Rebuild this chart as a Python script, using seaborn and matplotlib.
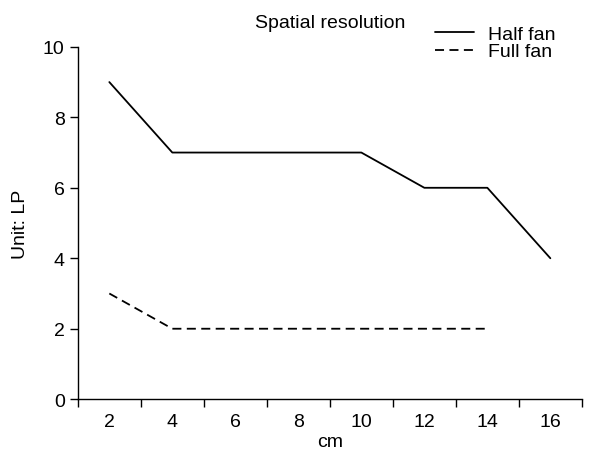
import matplotlib
matplotlib.use("Agg")
import matplotlib.pyplot as plt
import seaborn as sns
import pandas as pd
import numpy as np

categories = ["2", "4", "6", "8", "10", "12", "14", "16"]
half_fan = [9, 7, 7, 7, 7, 6, 6, 4]
full_fan = [3, 2, 2, 2, 2, 2, 2, None]
yticks = [0, 2, 4, 6, 8, 10]

sns.set_theme(style="ticks")
plt.rcParams['font.family'] = ['Liberation Sans', 'DejaVu Sans']

pos = np.arange(len(categories))
df = pd.concat([
    pd.DataFrame({"pos": pos, "val": half_fan, "series": "Half fan"}),
    pd.DataFrame({"pos": pos, "val": full_fan, "series": "Full fan"}),
]).dropna()

fig = plt.figure(figsize=(6.08, 4.6), dpi=100)
ax = fig.add_axes([0.128, 0.130, 0.829, 0.766])
sns.lineplot(data=df, x="pos", y="val", hue="series", style="series",
             palette={"Half fan": "black", "Full fan": "black"},
             dashes={"Half fan": "", "Full fan": (5, 3)},
             linewidth=1.3, ax=ax, legend=True)

ax.set_xlim(-0.5, len(categories) - 0.5)
ax.set_ylim(0, 10)
ax.set_xticks(np.arange(len(categories) + 1) - 0.5)
ax.set_xticklabels([])
ax.set_xticks(pos, minor=True)
ax.set_xticklabels(categories, minor=True)
ax.tick_params(axis="x", which="minor", length=0, labelsize=14, pad=10,
               labelcolor="black")
ax.tick_params(axis="x", which="major", length=6, width=1, color="black")
ax.set_yticks(yticks)
ax.tick_params(axis="y", length=6, width=1, color="black", labelsize=14,
               labelcolor="black")
for s in ["left", "bottom"]:
    ax.spines[s].set_color("black")
    ax.spines[s].set_linewidth(1)
sns.despine(ax=ax)

ax.set_xlabel("cm", fontsize=14, labelpad=2, color="black")
ax.set_ylabel("Unit: LP", fontsize=14, labelpad=10, color="black")
ax.set_title("Spatial resolution", fontsize=14, pad=14, color="black")

leg = ax.legend(frameon=False, fontsize=14, loc="upper right",
                bbox_to_anchor=(0.975, 1.10), handlelength=2.0,
                labelspacing=0.0, handletextpad=0.75, borderaxespad=0.3)
for h in leg.get_lines():
    h.set_linewidth(1.3)
for t in leg.get_texts():
    t.set_color("black")

fig.savefig("out.png", dpi=100)
